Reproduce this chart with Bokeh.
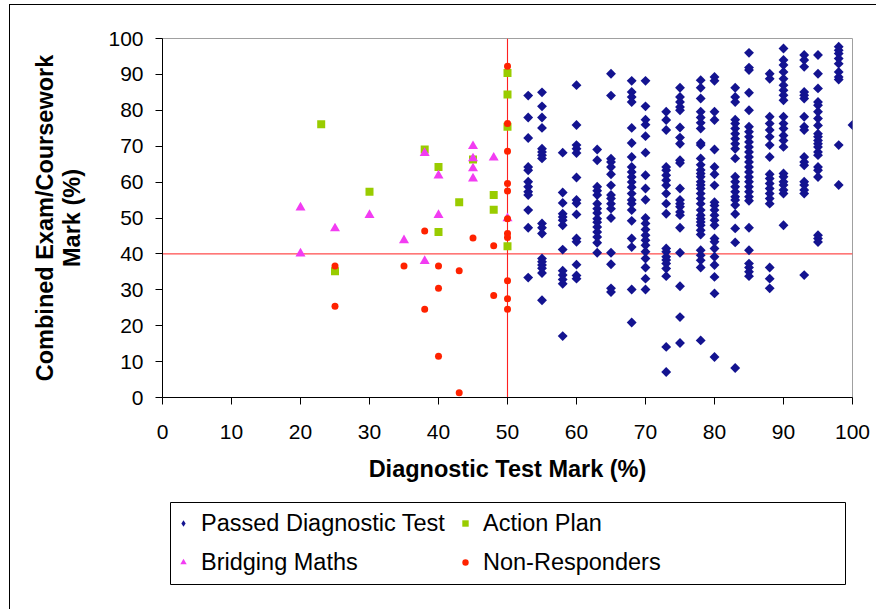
import math
from bokeh.plotting import figure
from bokeh.layouts import column
from bokeh.models import Range1d, Span, Legend, LegendItem, FixedTicker, ColumnDataSource
from bokeh.embed import file_html
from bokeh.resources import INLINE

# ---------------- data ----------------
# Passed Diagnostic Test (diagnostic mark -> combined mark), by diagnostic column
passed_cols = [53, 55, 58, 60, 63, 65, 68, 70, 73, 75, 78, 80, 83, 85, 88, 90, 93, 95, 98, 100]
passed_marks = [
    [84.1, 78.0, 72.3, 64.2, 63.3, 60.1, 58.7, 57.3, 56.4, 52.2, 47.3, 33.4],
    [85.0, 81.1, 78.0, 75.1, 69.3, 68.4, 67.5, 66.6, 48.5, 47.3, 45.7, 38.7, 37.8, 36.9, 36.0, 34.7, 27.1],
    [68.2, 57.1, 54.2, 51.2, 50.3, 49.4, 48.0, 41.2, 35.3, 34.1, 32.9, 31.7, 17.1],
    [87.0, 75.9, 70.3, 69.3, 68.1, 61.3, 55.0, 54.1, 51.0, 44.3, 43.4, 37.0, 34.0, 33.1],
    [69.1, 66.1, 58.7, 57.6, 56.4, 54.0, 52.6, 51.4, 49.8, 48.8, 47.5, 46.1, 44.7, 43.1, 40.3],
    [90.2, 84.1, 66.5, 65.6, 64.2, 62.2, 59.1, 56.4, 55.4, 54.0, 52.6, 50.0, 40.3, 37.1, 30.4, 29.4],
    [88.2, 85.1, 83.7, 82.3, 75.1, 70.9, 67.0, 64.2, 62.8, 61.4, 60.0, 58.6, 56.8, 55.0, 54.0, 52.2, 49.2,
     44.3, 41.9, 30.1, 20.9],
    [88.2, 81.1, 77.4, 76.0, 72.8, 68.2, 61.9, 58.2, 55.1, 50.0, 48.5, 46.8, 45.2, 43.8, 42.4, 40.6, 38.7,
     36.2, 33.1, 30.1],
    [79.6, 77.3, 74.5, 64.2, 63.3, 61.9, 60.5, 59.1, 56.8, 54.0, 51.2, 41.5, 40.6, 39.2, 38.3, 37.3, 35.9,
     33.8, 14.1, 7.1],
    [86.3, 83.7, 82.3, 80.9, 80.0, 75.2, 72.4, 70.7, 66.1, 65.3, 58.2, 55.0, 54.0, 53.1, 51.7, 50.8, 47.3,
     40.3, 31.0, 22.4, 15.2],
    [88.4, 86.3, 83.3, 79.6, 78.0, 76.5, 74.9, 70.9, 70.3, 66.6, 64.8, 63.4, 62.4, 61.5, 60.1, 59.2, 58.2,
     56.8, 55.4, 54.0, 52.2, 50.8, 49.8, 48.9, 48.0, 46.6, 45.4, 41.0, 39.6, 38.2, 36.2, 15.9],
    [89.3, 88.2, 79.6, 77.3, 69.1, 64.2, 62.2, 59.1, 54.4, 53.5, 52.2, 50.8, 49.4, 48.0, 44.3, 43.4, 41.5,
     39.2, 36.9, 33.6, 29.0, 11.3],
    [86.3, 83.7, 82.3, 77.4, 76.3, 74.9, 73.5, 72.1, 70.7, 69.3, 66.6, 61.5, 60.1, 58.7, 57.3, 55.9, 55.0,
     53.6, 51.1, 47.1, 43.2, 8.2],
    [96.0, 91.9, 91.2, 84.9, 80.0, 75.4, 74.0, 72.6, 71.2, 69.8, 68.4, 67.0, 65.6, 64.2, 62.8, 61.4, 60.1,
     58.7, 57.3, 55.9, 54.8, 47.3, 41.0, 37.3, 36.2, 35.0, 33.8],
    [90.2, 88.8, 78.2, 76.3, 74.5, 72.6, 70.3, 67.0, 62.2, 61.0, 59.6, 58.2, 56.8, 55.4, 54.0, 36.2, 33.1, 30.4],
    [97.2, 94.0, 92.6, 90.7, 88.8, 87.0, 85.6, 84.2, 82.8, 78.2, 76.3, 74.9, 73.0, 71.6, 69.8, 62.4, 61.5,
     60.1, 59.2, 57.8, 56.8, 48.0],
    [95.4, 94.0, 92.1, 85.1, 84.2, 83.3, 78.2, 75.4, 74.5, 67.0, 65.6, 64.7, 60.1, 59.2, 57.8, 56.8, 34.1],
    [95.4, 90.2, 86.1, 82.3, 81.4, 79.6, 77.7, 75.8, 73.5, 72.6, 71.6, 70.7, 69.8, 68.4, 67.5, 64.2, 63.3,
     61.4, 45.2, 44.3, 43.3],
    [97.7, 96.7, 95.8, 94.4, 93.0, 90.7, 89.3, 88.6, 70.3, 59.2],
    [75.9],
]

action_x = [23, 25, 30, 38, 40, 40, 43, 45, 48, 48, 50, 50, 50, 50]
action_y = [76.1, 35.2, 57.3, 69.1, 64.2, 46.1, 54.4, 66.3, 56.4, 52.3, 90.4, 84.4, 75.4, 42.1]

bridging_x = [20, 20, 25, 30, 35, 38, 38, 40, 40, 45, 45, 45, 45, 48, 50]
bridging_y = [52.9, 40.1, 47.1, 50.8, 43.8, 68.1, 38.0, 61.8, 50.8, 70.0, 66.6, 63.8, 61.0, 66.8, 49.9]

nonresp_x = [25, 25, 35, 38, 38, 40, 40, 40, 43, 43, 45, 48, 48,
             50, 50, 50, 50, 50, 50, 50, 50, 50, 50, 50]
nonresp_y = [36.6, 25.4, 36.6, 46.4, 24.6, 36.6, 30.4, 11.5, 35.3, 1.3, 44.4, 42.3, 28.4,
             92.3, 76.3, 68.6, 59.6, 57.5, 49.8, 45.7, 44.6, 32.5, 27.5, 24.6]

series_names = ["Passed Diagnostic Test", "Action Plan", "Bridging Maths", "Non-Responders"]
pass_mark_diag = 50
pass_mark_combined = 40
axis_min, axis_max = 0, 100
ticks = [0, 10, 20, 30, 40, 50, 60, 70, 80, 90, 100]

passed_x = [c for c, ys in zip(passed_cols, passed_marks) for _ in ys]
passed_y = [y for ys in passed_marks for y in ys]

FONT = "Liberation Sans"
C_PASS, C_ACT, C_BRI, C_NON = "#131390", "#99CC00", "#F23CF2", "#FF2200"
C_REF = "#FF2020"

src_pass = ColumnDataSource(dict(x=passed_x, y=passed_y))
src_act = ColumnDataSource(dict(x=action_x, y=action_y))
src_bri = ColumnDataSource(dict(x=bridging_x, y=bridging_y))
src_non = ColumnDataSource(dict(x=nonresp_x, y=nonresp_y))

# ---------------- main figure ----------------
p = figure(width=866, height=495, output_backend="svg", toolbar_location=None,
           x_range=Range1d(axis_min, axis_max), y_range=Range1d(axis_min, axis_max),
           min_border_left=152, min_border_right=24, min_border_top=33, min_border_bottom=103)
p.background_fill_color = "white"
p.border_fill_color = "white"
p.outline_line_color = "#A0A0A0"
p.outline_line_width = 1
p.xgrid.visible = False
p.ygrid.visible = False

for ax in (p.xaxis[0], p.yaxis[0]):
    ax.ticker = FixedTicker(ticks=ticks)
    ax.minor_tick_line_color = None
    ax.major_tick_in = 0
    ax.major_tick_out = 7
    ax.major_tick_line_color = "black"
    ax.axis_line_color = "black"
    ax.major_label_text_font = FONT
    ax.major_label_text_font_size = "21px"
    ax.major_label_text_color = "black"
    ax.axis_label_text_font = FONT
    ax.axis_label_text_font_size = "23.5px"
    ax.axis_label_text_font_style = "bold"
    ax.axis_label_text_color = "black"

p.xaxis.major_label_standoff = 20
p.xaxis.axis_label_standoff = 14
p.yaxis.major_label_standoff = 12
p.yaxis.axis_label_standoff = 20
p.xaxis.axis_label = "Diagnostic Test Mark (%)"
p.yaxis.axis_label = "Combined Exam/Coursework\nMark (%)"
p.yaxis.axis_label_text_line_height = 1.07

# pass-mark reference lines
p.add_layout(Span(location=pass_mark_combined, dimension="width", line_color=C_REF,
                  line_width=1, level="underlay"))
line_half_width = 0.08  # about one pixel wide in total
p.quad(left=[pass_mark_diag - line_half_width], right=[pass_mark_diag + line_half_width],
       bottom=[axis_min], top=[axis_max], fill_color=C_REF, line_color=None)

p.scatter("x", "y", source=src_pass, marker="square", angle=math.pi / 4, size=7,
          fill_color=C_PASS, line_color=None)
p.scatter("x", "y", source=src_act, marker="square", size=8, fill_color=C_ACT, line_color=None)
p.scatter("x", "y", source=src_bri, marker="triangle", size=10, fill_color=C_BRI, line_color=None)
p.scatter("x", "y", source=src_non, marker="circle", size=7, fill_color=C_NON, line_color=None)

# ---------------- legend strip (frame scaled in pixels) ----------------
q = figure(width=866, height=109, output_backend="svg", toolbar_location=None,
           x_range=Range1d(0, 690), y_range=Range1d(0, 100),
           x_axis_location=None, y_axis_location=None,
           min_border_left=152, min_border_right=24, min_border_top=0, min_border_bottom=9)
q.xgrid.visible = False
q.ygrid.visible = False
q.background_fill_color = "white"
q.border_fill_color = "white"
q.outline_line_color = None

# legend box
q.quad(left=[8], right=[683], bottom=[16], top=[98], fill_color=None,
       line_color="black", line_width=1)

# legend swatch renderers (zero-size marks; the legend draws its own swatch)
lg_pass = q.scatter("x", "y", source=src_pass, marker="diamond", size=0,
                    fill_color=C_PASS, line_color=None)
lg_act = q.scatter("x", "y", source=src_act, marker="square", size=0,
                   fill_color=C_ACT, line_color=None)
lg_bri = q.scatter("x", "y", source=src_bri, marker="triangle", size=0,
                   fill_color=C_BRI, line_color=None)
lg_non = q.scatter("x", "y", source=src_non, marker="circle", size=0,
                   fill_color=C_NON, line_color=None)

legend = Legend(items=[
    LegendItem(label=series_names[0], renderers=[lg_pass]),
    LegendItem(label=series_names[1], renderers=[lg_act]),
    LegendItem(label=series_names[2], renderers=[lg_bri]),
    LegendItem(label=series_names[3], renderers=[lg_non]),
], location=(13, 20), orientation="horizontal", ncols=2,
    label_text_font=FONT, label_text_font_size="23.5px", label_text_color="black",
    glyph_width=16, glyph_height=36, label_height=36, label_width=253,
    label_standoff=10, spacing=3, padding=0, margin=0,
    border_line_alpha=0, background_fill_alpha=0)
q.add_layout(legend, "center")

layout = column(p, q, spacing=0,
                styles={"margin-left": "9px", "margin-top": "4px",
                        "border-left": "1px solid black", "border-top": "1px solid black"})

open("out.html", "w").write(file_html(layout, INLINE))
